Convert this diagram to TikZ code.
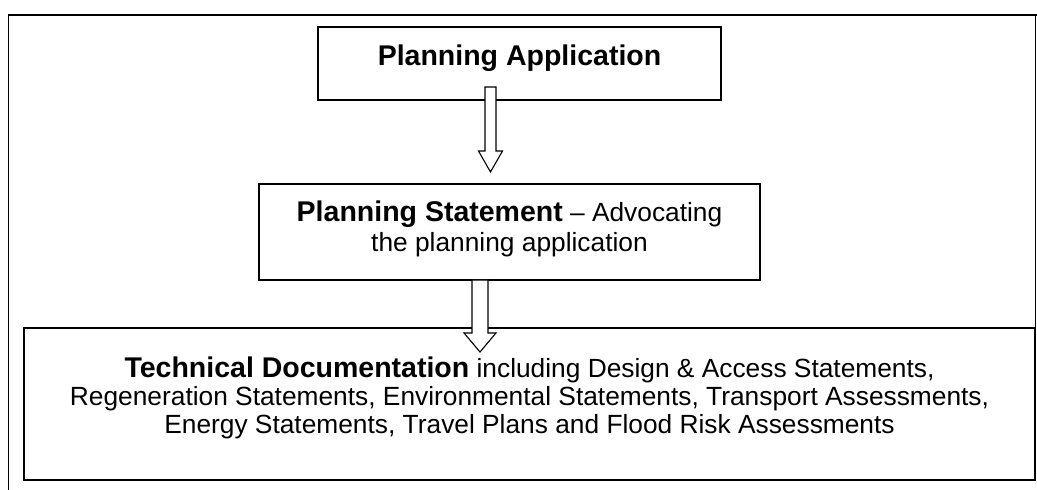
\documentclass[tikz,border=0pt]{standalone}
\usepackage{fontspec}
\setmainfont{Liberation Sans}
\usetikzlibrary{calc}
\def\px{0.456pt}
\def\blockarrow[#1](#2)(#3)(#4:#5:#6){\draw[#1] ($(#2)+(-#4,0)$) -- ($(#3)+(-#4,-#6)$) -- ($(#3)+(-#5,-#6)$) -- (#3) -- ($(#3)+(#5,-#6)$) -- ($(#3)+(#4,-#6)$) -- ($(#2)+(#4,0)$) -- cycle;}
\newcommand{\bigbf}{\fontsize{13}{13}\selectfont\bfseries}

\begin{document}
\begin{tikzpicture}[x=0.456pt, y=-0.456pt,
	box/.style={draw, line width=0.6pt, inner sep=0pt, outer sep=0pt, align=center}]
			%%%%% START %%%%%
			\useasboundingbox (0, 0) rectangle (1037, 490);
			
			\draw[line width=0.9pt] (8.5, 490) -- (8.5, 15) -- (1037, 15);
			\draw[line width=0.6pt] (1035.5, 15) -- (1035.5, 328);
			
			\node[box, minimum width=403*\px, minimum height=73*\px, text depth=8pt] (app) at (519.5, 63.5) {\bigbf Planning Application};
			
			\node[box, minimum width=501*\px, minimum height=96*\px, text depth=5.5pt, font=\fontsize{12}{13.7}\selectfont] (stmt) at (509.5, 232) {{\bigbf Planning Statement} -- Advocating\\ the planning application};
			
			\node[box, minimum width=1011*\px, minimum height=152*\px, text depth=8pt, font=\fontsize{12}{12.6}\selectfont] (tech) at (529.5, 404) {{\bigbf Technical Documentation} including Design \& Access Statements,\\ Regeneration Statements, Environmental Statements, Transport Assessments,\\ Energy Statements, Travel Plans and Flood Risk Assessments};
			
			\blockarrow[line width=0.5pt, fill=white]($(app.south)+(-29, -13)$)($(stmt.north)+(-19, -12)$)(5.5:12:21);
			\blockarrow[line width=0.5pt, fill=white]($(stmt.south)+(-29.5, 0)$)($(tech.north)+(-49.5, 24)$)(8:16:19);
			
			%%%%% END %%%%%
\end{tikzpicture}
\end{document}
